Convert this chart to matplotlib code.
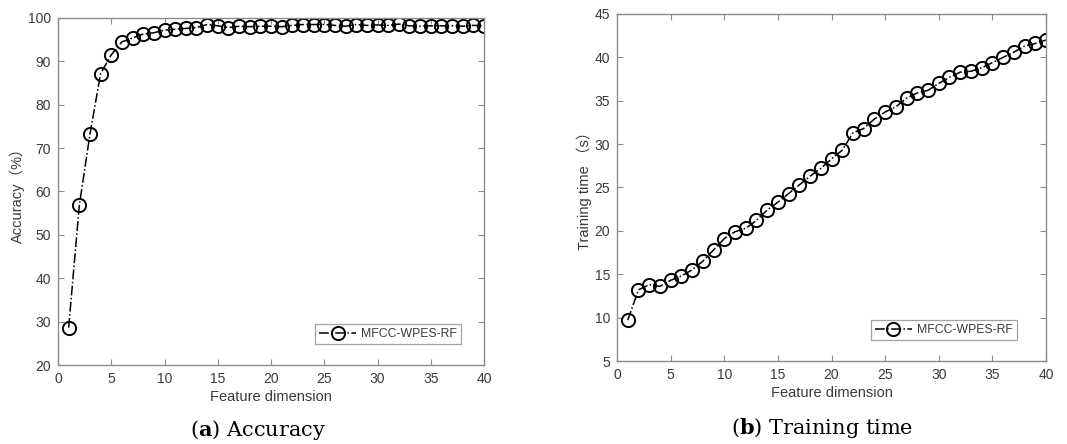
import numpy as np
import matplotlib
matplotlib.use("Agg")
import matplotlib.pyplot as plt

plt.rcParams["font.family"] = ["Liberation Sans", "Noto Sans CJK SC", "DejaVu Sans"]
plt.rcParams["mathtext.fontset"] = "custom"
plt.rcParams["mathtext.bf"] = "DejaVu Serif:bold"
plt.rcParams["mathtext.rm"] = "DejaVu Serif"

# feature dimension 1..40
dims = list(range(1, 41))

accuracy = [28.6, 56.8, 73.2, 87.2, 91.5, 94.5, 95.4, 96.3, 96.6, 97.2,
            97.4, 97.6, 97.8, 98.5, 98.2, 97.8, 98.1, 98.0, 98.1, 98.1,
            98.0, 98.3, 98.5, 98.5, 98.5, 98.3, 98.1, 98.5, 98.3, 98.4,
            98.3, 98.6, 98.2, 98.1, 98.2, 98.2, 98.2, 98.1, 98.3, 98.2]

train_time = [9.7, 13.2, 13.8, 13.6, 14.3, 14.8, 15.5, 16.5, 17.8, 19.1,
              19.9, 20.3, 21.2, 22.4, 23.3, 24.3, 25.3, 26.3, 27.2, 28.3,
              29.3, 31.3, 31.8, 32.9, 33.7, 34.3, 35.3, 35.9, 36.2, 37.0,
              37.7, 38.3, 38.4, 38.8, 39.4, 40.0, 40.6, 41.3, 41.6, 42.0]

x_ticks = [0, 5, 10, 15, 20, 25, 30, 35, 40]
acc_ticks = [20, 30, 40, 50, 60, 70, 80, 90, 100]
time_ticks = [5, 10, 15, 20, 25, 30, 35, 40, 45]

SPINE = "#8c8c8c"
TEXT = "#3a3a3a"
W, H = 1067, 444

fig = plt.figure(figsize=(W / 100, H / 100), dpi=100)


def panel(rect, y, yticks, ylabel, caption_bold, caption_rest, cap_x, cap_y, leg_anchor):
    ax = fig.add_axes(rect)
    ax.plot(dims, y, linestyle="-.", color="black", linewidth=1.1,
            marker="o", markersize=9.5, markerfacecolor="none",
            markeredgecolor="black", markeredgewidth=1.4,
            label="MFCC-WPES-RF")
    ax.set_xlim(0, 40)
    ax.set_ylim(yticks[0], yticks[-1])
    ax.set_xticks(x_ticks)
    ax.set_yticks(yticks)
    for s in ax.spines.values():
        s.set_color(SPINE)
        s.set_linewidth(1.0)
    ax.tick_params(direction="in", top=True, right=True, length=4,
                   color=SPINE, labelcolor=TEXT, labelsize=10, pad=5)
    ax.set_xlabel("Feature dimension", fontsize=10.5, color=TEXT, labelpad=3)
    ax.set_ylabel(ylabel, fontsize=10.5, color=TEXT, labelpad=2)
    leg = ax.legend(loc="lower right", bbox_to_anchor=leg_anchor,
                    fancybox=False, fontsize=8.8, handlelength=3.0,
                    borderpad=0.35, handletextpad=0.4, borderaxespad=0.0)
    leg.get_frame().set_edgecolor(SPINE)
    leg.get_frame().set_linewidth(0.9)
    for t in leg.get_texts():
        t.set_color(TEXT)
    fig.text(cap_x, cap_y, r"(" + r"$\mathbf{" + caption_bold + r"}$" + ")" + caption_rest,
             ha="center", va="center", fontsize=15, family="DejaVu Serif")
    return ax


panel([58 / W, 1 - 365 / H, 426 / W, 347 / H], accuracy, acc_ticks,
      "Accuracy（%）", "a", " Accuracy", 258 / W, 1 - 430 / H, (0.946, 0.06))
panel([617 / W, 1 - 361 / H, 429 / W, 347 / H], train_time, time_ticks,
      "Training time （s）", "b", " Training time", 822 / W, 1 - 428 / H, (0.932, 0.06))

fig.savefig("out.png", dpi=100)
